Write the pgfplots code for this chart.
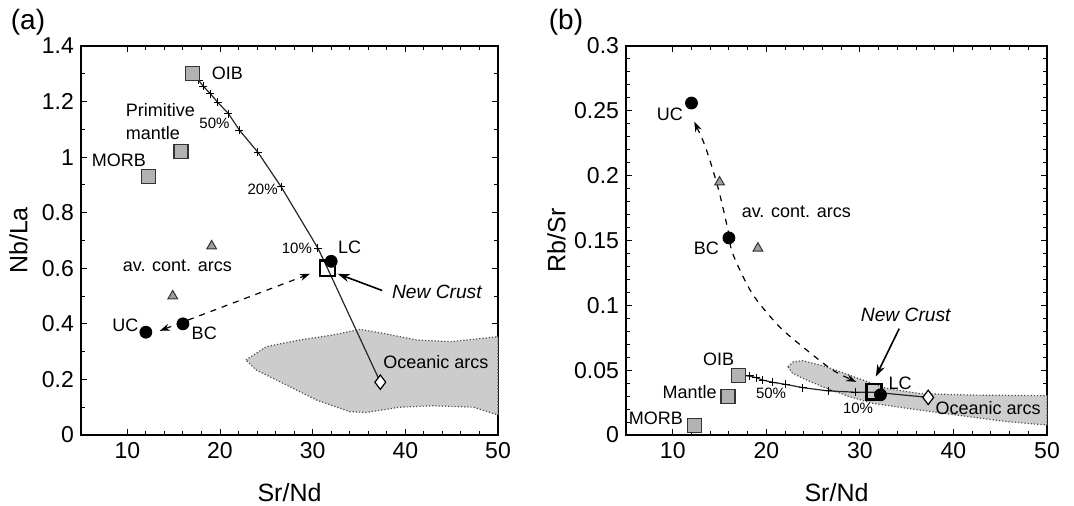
\documentclass[border=0pt]{standalone}
\usepackage{fontspec}
\setmainfont{Liberation Sans}
\usepackage{pgfplots}
\pgfplotsset{compat=1.18}
\usetikzlibrary{arrows.meta}

\definecolor{boxgray}{gray}{0.70}
\definecolor{areagray}{gray}{0.80}
\definecolor{trigray}{gray}{0.62}

\newcommand{\lab}{\fontsize{9}{11}\selectfont}
\newcommand{\pct}{\fontsize{7.5}{9}\selectfont}

\pgfplotsset{
  geo/.style={
    scale only axis, height=194.5pt,
    xmin=5, xmax=50, xtick={10,20,...,50}, minor x tick num=4,
    tick align=inside, major tick length=3.2pt, minor tick length=1.8pt,
    tick label style={font=\fontsize{11.5}{13}\selectfont},
    label style={font=\fontsize{12.5}{14}\selectfont},
    /pgf/number format/assume math mode=true,
    xlabel={Sr/Nd},
    xlabel style={at={(axis description cs:0.5,0)}, anchor=center, yshift=-29pt},
    axis line style={line width=0.9pt},
    every tick/.style={black, line width=0.5pt},
    clip=false,
  },
  sq/.style={only marks, mark=square*, mark size=3.5pt, mark options={fill=boxgray, draw=black!80, line width=0.6pt}},
  dot/.style={only marks, mark=*, mark size=3pt, mark options={fill=black, draw=black}},
  tri/.style={only marks, mark=triangle*, mark size=2.8pt, mark options={fill=trigray, draw=black!80, line width=0.5pt}},
  dia/.style={only marks, mark=diamond*, mark size=3.6pt, mark options={fill=white, draw=black, line width=0.6pt}},
  nc/.style={only marks, mark=square, mark size=3.8pt, mark options={draw=black, line width=1.3pt}},
  mix/.style={no marks, black!85, line width=0.6pt},
  crs/.style={only marks, mark=+, mark size=2pt, mark options={black, line width=0.5pt}},
  zone/.style={fill=areagray, draw=black!70, densely dotted, line width=0.6pt},
}

\begin{document}
\begin{tikzpicture}
\path[use as bounding box] (0,0) rectangle (537pt,253pt);

% ---------------- (a)
\begin{axis}[geo, at={(40.5pt,35.5pt)}, anchor=south west, width=208.5pt,
  ymin=0, ymax=1.4, ytick={0,0.2,...,1.4}, minor y tick num=1,
  ylabel={Nb/La},
  ylabel style={at={(axis description cs:-0.15,0.5)}, anchor=center}]
\addplot[zone] coordinates {
  (22.8,0.27) (25.0,0.318) (28.6,0.342) (32.2,0.36) (35.1,0.38) (37.6,0.366)
  (41.2,0.342) (44.9,0.336) (50,0.354) (50,0.072) (47.35,0.10) (43.0,0.105)
  (39.4,0.10) (35.8,0.081) (34.0,0.084) (30.4,0.126) (26.8,0.186) (23.9,0.234)
  (22.8,0.27)} -- cycle;
\addplot[mix] coordinates {
  (17.0,1.30) (17.68,1.277) (18.2,1.255) (18.94,1.229) (19.76,1.197)
  (20.9,1.157) (22.1,1.097) (24.1,1.017) (26.6,0.893) (30.57,0.672)
  (31.6,0.60) (37.3,0.19)};
\addplot[crs] coordinates {
  (17.3,1.29) (17.68,1.277) (18.2,1.255) (18.94,1.229) (19.76,1.197)
  (20.9,1.157) (22.1,1.097) (24.1,1.017) (26.6,0.893) (30.57,0.672)};
\draw[dashed, line width=0.6pt, {Stealth[length=5pt,width=3.5pt]}-{Stealth[length=5pt,width=3.5pt]}]
  (axis cs:13.5,0.375) -- (axis cs:29.7,0.58);
\draw[line width=0.8pt, -{Stealth[length=6pt,width=4pt]}] (axis cs:37.5,0.52) -- (axis cs:32.7,0.58);
\addplot[sq] coordinates {(17.0,1.30) (15.8,1.02) (12.3,0.93)};
\addplot[tri] coordinates {(19.1,0.68) (14.9,0.50)};
\addplot[dot] coordinates {(12.0,0.37) (16.0,0.40) (32.0,0.625)};
\addplot[nc] coordinates {(31.6,0.60)};
\addplot[dia] coordinates {(37.3,0.19)};
\node[font=\lab] at (axis cs:20.8,1.30) {OIB};
\node[font=\lab, align=left, anchor=west, inner sep=0pt] at (axis cs:9.8,1.128) {Primitive\\mantle};
\node[font=\lab] at (axis cs:9.1,0.987) {MORB};
\node[font=\lab] at (axis cs:15.4,0.61) {av. cont. arcs};
\node[font=\lab] at (axis cs:9.8,0.396) {UC};
\node[font=\lab] at (axis cs:18.3,0.366) {BC};
\node[font=\lab] at (axis cs:34.0,0.677) {LC};
\node[font=\lab] at (axis cs:43.3,0.264) {Oceanic arcs};
\node[font=\pct] at (axis cs:19.4,1.12) {50\%};
\node[font=\pct] at (axis cs:24.6,0.885) {20\%};
\node[font=\pct] at (axis cs:28.3,0.67) {10\%};
\node[font=\fontsize{9.6}{12}\selectfont\itshape] at (axis cs:43.4,0.515) {New Crust};
\end{axis}

% ---------------- (b)
\begin{axis}[geo, at={(313pt,35.5pt)}, anchor=south west, width=210.5pt,
  ymin=0, ymax=0.3, ytick={0,0.05,...,0.3}, minor y tick num=4,
  yticklabel style={/pgf/number format/fixed, /pgf/number format/precision=2},
  scaled y ticks=false,
  ylabel={Rb/Sr},
  ylabel style={at={(axis description cs:-0.165,0.5)}, anchor=center}]
\addplot[zone] coordinates {
  (22.3,0.0527) (22.9,0.0565) (23.9,0.0573) (26.4,0.0527) (29.3,0.045)
  (32.8,0.036) (36.4,0.032) (41.8,0.0308) (50,0.0303) (50,0.0077)
  (45.7,0.0103) (40.3,0.0154) (35.0,0.0206) (31.4,0.0244) (28.9,0.0295)
  (26.0,0.0372) (23.9,0.0437) (22.8,0.0476) (22.3,0.0527)} -- cycle;
\addplot[mix] coordinates {
  (17.0,0.0458) (18.2,0.0455) (18.9,0.0442) (19.6,0.0424) (20.7,0.0406)
  (22.1,0.039) (23.9,0.0365) (26.6,0.034) (29.5,0.0330) (31.5,0.0330) (37.3,0.029)};
\addplot[crs] coordinates {
  (17.5,0.0462) (18.2,0.0455) (18.9,0.0442) (19.6,0.0424) (20.7,0.0406)
  (22.1,0.039) (23.9,0.0365) (26.6,0.034) (29.5,0.0330)};
\addplot[smooth, dashed, line width=0.6pt, mark=none,
  {Stealth[length=5pt,width=3.5pt]}-{Stealth[length=5pt,width=3.5pt]}] coordinates {
  (12.3,0.2416) (13.6,0.2198) (14.9,0.189) (15.9,0.158) (16.4,0.140) (18.5,0.109)
  (21.4,0.0835) (24.3,0.0656) (27.1,0.050) (29.6,0.041)};
\draw[line width=0.8pt, -{Stealth[length=6pt,width=4pt]}] (axis cs:34.2,0.082) -- (axis cs:31.7,0.045);
\addplot[sq] coordinates {(17.0,0.0458) (15.9,0.0296) (12.3,0.0072)};
\addplot[tri] coordinates {(15.0,0.195) (19.1,0.144)};
\addplot[dot] coordinates {(12.0,0.256) (16.0,0.152) (32.2,0.031)};
\addplot[nc] coordinates {(31.5,0.0334)};
\addplot[dia] coordinates {(37.3,0.029)};
\node[font=\lab] at (axis cs:9.7,0.247) {UC};
\node[font=\lab] at (axis cs:23.2,0.172) {av. cont. arcs};
\node[font=\lab] at (axis cs:13.6,0.144) {BC};
\node[font=\lab] at (axis cs:14.9,0.058) {OIB};
\node[font=\lab] at (axis cs:11.8,0.0334) {Mantle};
\node[font=\lab] at (axis cs:8.2,0.0128) {MORB};
\node[font=\pct] at (axis cs:20.5,0.032) {50\%};
\node[font=\pct] at (axis cs:29.8,0.0206) {10\%};
\node[font=\lab] at (axis cs:34.3,0.0399) {LC};
\node[font=\lab] at (axis cs:43.7,0.0206) {Oceanic arcs};
\node[font=\fontsize{9.6}{12}\selectfont\itshape] at (axis cs:34.9,0.0925) {New Crust};
\end{axis}

\node[font=\fontsize{14}{16}\selectfont] at (14pt,242pt) {(a)};
\node[font=\fontsize{14}{16}\selectfont] at (283pt,242pt) {(b)};
\end{tikzpicture}
\end{document}
